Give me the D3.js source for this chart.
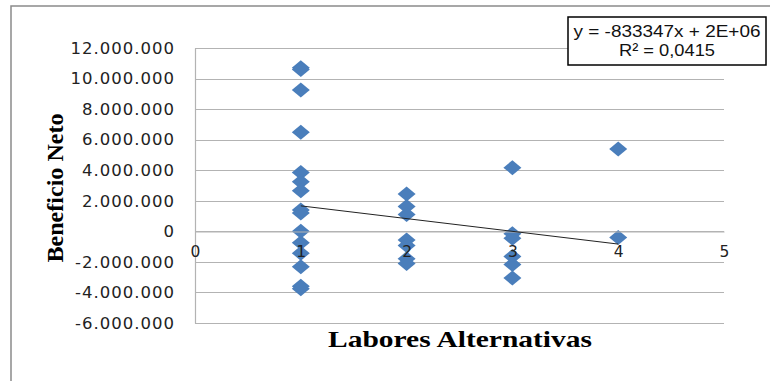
<!DOCTYPE html>
<html>
<head>
<meta charset="utf-8">
<script src="https://cdn.jsdelivr.net/npm/d3@7"></script>
<style>
  html, body { margin: 0; padding: 0; background: #fff; }
  svg { display: block; }
</style>
</head>
<body>
<svg id="chart" width="770" height="381"></svg>
<script>
// ---- data ----
const xLabel = "Labores Alternativas";
const yLabel = "Beneficio Neto";
const xValues = [
  1,1,1,1,1,1,1,1,1,1,1,1,1,1,1,
  2,2,2,2,2,2,2,
  3,3,3,3,3,3,
  4,4
];
const yValues = [
  10700000, 10600000, 9250000, 6480000, 3850000, 3250000, 2650000, 1400000, 1200000, 0, -750000, -1430000, -2320000, -3600000, -3750000,
  2450000, 1620000, 1100000, -560000, -920000, -1800000, -2100000,
  4170000, -150000, -450000, -1640000, -2170000, -3060000,
  5390000, -410000
];
const xTicks = [0, 1, 2, 3, 4, 5];
const yTicks = [-6000000, -4000000, -2000000, 0, 2000000, 4000000, 6000000, 8000000, 10000000, 12000000];
const trendSlope = -833347;
const trendIntercept = 2500000;
const equationLines = ["y = -833347x + 2E+06", "R\u00b2 = 0,0415"];

// ---- layout ----
const svg = d3.select("#chart");
const plotLeft = 195, plotRight = 724, plotTop = 48, plotBottom = 323;

const x = d3.scaleLinear().domain([0, 5]).range([plotLeft, plotRight]);
const y = d3.scaleLinear().domain([-6000000, 12000000]).range([plotBottom, plotTop]);

const loc = d3.formatLocale({decimal: ",", thousands: ".", grouping: [3], currency: ["", ""], minus: "-"});
const fmt = loc.format(",.0f");

// outer frame
svg.append("rect")
  .attr("x", 11).attr("y", 6).attr("width", 800).attr("height", 400)
  .attr("fill", "none").attr("stroke", "#8a8a8a").attr("stroke-width", 1.5);

// gridlines
svg.append("g")
  .selectAll("line").data(yTicks).join("line")
  .attr("x1", plotLeft).attr("x2", plotRight)
  .attr("y1", d => Math.round(y(d)) + 0.5).attr("y2", d => Math.round(y(d)) + 0.5)
  .attr("stroke", "#b3b3b3").attr("stroke-width", 1.2);

// y axis
const yAxis = svg.append("g")
  .attr("transform", `translate(${plotLeft},0)`)
  .call(d3.axisLeft(y).tickValues(yTicks).tickFormat(fmt).tickSize(0).tickPadding(20));
yAxis.select(".domain").attr("stroke", "#b3b3b3").attr("stroke-width", 1.2);
yAxis.selectAll("text")
  .attr("font-family", "'DejaVu Sans', Verdana, sans-serif")
  .attr("font-size", 16.5).attr("letter-spacing", 1).attr("fill", "#222");

// points (diamonds)
const pts = xValues.map((v, i) => ({x: v, y: yValues[i]}));
const hw = 9, hh = 7.5;
svg.append("g")
  .selectAll("path").data(pts).join("path")
  .attr("d", d => {
    const cx = x(d.x), cy = y(d.y);
    return `M${cx},${cy - hh}L${cx + hw},${cy}L${cx},${cy + hh}L${cx - hw},${cy}Z`;
  })
  .attr("fill", "#4a7ebb");

// x axis (at y=0), drawn over the points like the reference
const xAxis = svg.append("g")
  .attr("transform", `translate(0,${Math.round(y(0)) + 0.5})`)
  .call(d3.axisBottom(x).tickValues(xTicks).tickFormat(d3.format("d")).tickSize(0).tickPadding(14));
xAxis.select(".domain").attr("stroke", "#b3b3b3").attr("stroke-width", 1.2);
xAxis.selectAll("text")
  .attr("font-family", "'DejaVu Sans', Verdana, sans-serif")
  .attr("font-size", 15.5).attr("fill", "#222");

// trend line
const xExt = d3.extent(xValues);
svg.append("line")
  .attr("x1", x(xExt[0])).attr("y1", y(trendSlope * xExt[0] + trendIntercept))
  .attr("x2", x(xExt[1])).attr("y2", y(trendSlope * xExt[1] + trendIntercept))
  .attr("stroke", "#222").attr("stroke-width", 1);

// equation box
svg.append("rect")
  .attr("x", 568).attr("y", 17).attr("width", 198).attr("height", 48)
  .attr("fill", "#fff").attr("stroke", "#000").attr("stroke-width", 1.5);
const eqLens = [187, 96];
svg.append("g").selectAll("text").data(equationLines).join("text")
  .attr("x", 667).attr("y", (d, i) => 37 + i * 19)
  .attr("text-anchor", "middle")
  .attr("font-family", "'Liberation Sans', Arial, sans-serif")
  .attr("font-size", 17).attr("fill", "#111")
  .attr("textLength", (d, i) => eqLens[i])
  .attr("lengthAdjust", "spacingAndGlyphs")
  .text(d => d);

// axis titles
svg.append("text")
  .attr("x", 460).attr("y", 347)
  .attr("text-anchor", "middle")
  .attr("font-family", "'Liberation Serif', 'Times New Roman', serif")
  .attr("font-weight", "bold").attr("font-size", 23)
  .attr("textLength", 264)
  .attr("lengthAdjust", "spacingAndGlyphs")
  .attr("fill", "#000")
  .text(xLabel);

svg.append("text")
  .attr("transform", "translate(63,188) rotate(-90)")
  .attr("text-anchor", "middle")
  .attr("font-family", "'Liberation Serif', 'Times New Roman', serif")
  .attr("font-weight", "bold").attr("font-size", 24)
  .attr("textLength", 149)
  .attr("lengthAdjust", "spacingAndGlyphs")
  .attr("fill", "#000")
  .text(yLabel);
</script>
</body>
</html>
